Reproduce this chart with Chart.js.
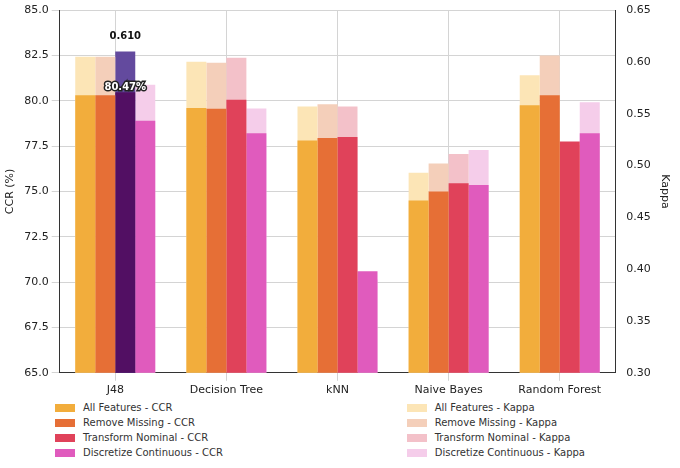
<!DOCTYPE html>
<html>
<head>
<meta charset="utf-8">
<script src="https://cdn.jsdelivr.net/npm/chart.js@4"></script>
<style>
  body { margin: 0; background: #fff; font-family: 'DejaVu Sans', sans-serif; }
  #wrap { width: 680px; height: 400px; }
  #legend { display: flex; justify-content: space-between; padding: 0 40px 0 55px; font-size: 10px; color: #333; }
  .item { display: flex; align-items: center; height: 15px; }
  .sw { width: 20px; height: 8px; margin-right: 8px; }
</style>
</head>
<body>
<div id="wrap"><canvas id="c"></canvas></div>
<div id="legend"><div id="lcol"></div><div id="rcol" style="margin-right:55px"></div></div>
<script>
'use strict';

const categories = ['J48', 'Decision Tree', 'kNN', 'Naive Bayes', 'Random Forest'];
const seriesNames = ['All Features', 'Remove Missing', 'Transform Nominal', 'Discretize Continuous'];
const ccrAll = [80.3, 79.6, 77.8, 74.5, 79.75];
const ccrMissing = [80.3, 79.55, 77.95, 75.0, 80.3];
const ccrNominal = [80.47, 80.05, 78.0, 75.45, 77.75];
const ccrDiscrete = [78.9, 78.2, 70.6, 75.35, 78.2];
const kappaAll = [0.605, 0.600, 0.557, 0.493, 0.587];
const kappaMissing = [0.605, 0.599, 0.559, 0.502, 0.606];
const kappaNominal = [0.610, 0.604, 0.557, 0.511, 0.520];
const kappaDiscrete = [0.578, 0.555, 0.390, 0.515, 0.561];

const ccrColors = ['#f2ad3c', '#e66f36', '#e0425a', '#e05bbd'];
const kappaColors = ['#fce5b6', '#f4cfba', '#f3c1c9', '#f5cdea'];
const ccrData = [ccrAll, ccrMissing, ccrNominal, ccrDiscrete];
const kappaData = [kappaAll, kappaMissing, kappaNominal, kappaDiscrete];

const datasets = [];
for (let i = 0; i < 4; i++) {
  datasets.push({
    label: seriesNames[i] + ' - CCR',
    data: ccrData[i],
    yAxisID: 'y',
    stack: 's' + i,
    order: 1,
    backgroundColor: categories.map((c, j) => (i === 2 && j === 0) ? '#520f63' : ccrColors[i])
  });
  datasets.push({
    label: seriesNames[i] + ' - Kappa',
    data: kappaData[i],
    yAxisID: 'y1',
    stack: 's' + i,
    order: 2,
    backgroundColor: categories.map((c, j) => (i === 2 && j === 0) ? '#634a9e' : kappaColors[i])
  });
}

const labelPlugin = {
  id: 'best',
  afterDatasetsDraw(chart) {
    const ctx = chart.ctx;
    const ccrBar = chart.getDatasetMeta(4).data[0];
    const kBar = chart.getDatasetMeta(5).data[0];
    ctx.save();
    ctx.font = 'bold 10px DejaVu Sans';
    ctx.textAlign = 'center';
    ctx.fillStyle = '#111';
    ctx.fillText(kappaNominal[0].toFixed(3), kBar.x, kBar.y - 12);
    ctx.lineWidth = 3;
    ctx.strokeStyle = '#222';
    ctx.strokeText(ccrNominal[0].toFixed(2) + '%', ccrBar.x, ccrBar.y - 2);
    ctx.fillStyle = '#fff';
    ctx.fillText(ccrNominal[0].toFixed(2) + '%', ccrBar.x, ccrBar.y - 2);
    ctx.restore();
  }
};

const grid = { color: '#d4d4d4', borderDash: [3, 3] };
const tickFont = { family: 'DejaVu Sans', size: 11 };

new Chart(document.getElementById('c'), {
  type: 'bar',
  data: { labels: categories, datasets: datasets },
  plugins: [labelPlugin],
  options: {
    responsive: true,
    maintainAspectRatio: false,
    animation: false,
    layout: { padding: { top: 10, right: 5, left: 0 } },
    datasets: { bar: { categoryPercentage: 0.72, barPercentage: 1.0 } },
    plugins: { legend: { display: false }, tooltip: { enabled: false } },
    scales: {
      x: {
        grid: Object.assign({ offset: false }, grid),
        border: { color: '#333' },
        ticks: { color: '#222', font: tickFont }
      },
      y: {
        stacked: false,
        min: 65, max: 85,
        grid: grid,
        border: { color: '#333' },
        ticks: { stepSize: 2.5, color: '#222', font: tickFont, callback: v => v.toFixed(1) },
        title: { display: true, text: 'CCR (%)', color: '#222', font: tickFont }
      },
      y1: {
        stacked: false,
        position: 'right',
        min: 0.30, max: 0.65,
        grid: { display: false },
        border: { color: '#333' },
        ticks: { stepSize: 0.05, color: '#222', font: tickFont, callback: v => v.toFixed(2) },
        title: { display: true, text: 'Kappa', color: '#222', font: tickFont }
      }
    }
  }
});

const lcol = document.getElementById('lcol');
const rcol = document.getElementById('rcol');
for (let i = 0; i < 4; i++) {
  lcol.innerHTML += `<div class="item"><span class="sw" style="background:${ccrColors[i]}"></span>${seriesNames[i]} - CCR</div>`;
  rcol.innerHTML += `<div class="item"><span class="sw" style="background:${kappaColors[i]}"></span>${seriesNames[i]} - Kappa</div>`;
}
</script>
</body>
</html>
